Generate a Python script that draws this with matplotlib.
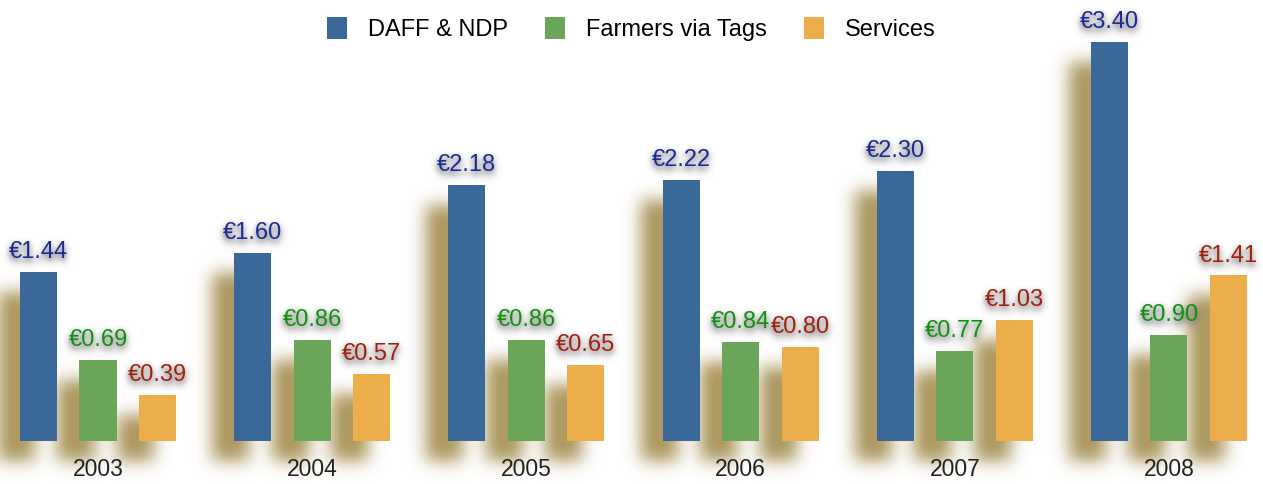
import numpy as np
import matplotlib
matplotlib.use('Agg')
import matplotlib.pyplot as plt

plt.rcParams['font.family'] = ['Liberation Sans', 'DejaVu Sans']

years = ['2003', '2004', '2005', '2006', '2007', '2008']
series = ['DAFF & NDP', 'Farmers via Tags', 'Services']
daff = [1.44, 1.60, 2.18, 2.22, 2.30, 3.40]
farmers = [0.69, 0.86, 0.86, 0.84, 0.77, 0.90]
services = [0.39, 0.57, 0.65, 0.80, 1.03, 1.41]

bar_colors = ['#3a6899', '#6aa55a', '#ecae4b']
text_colors = ['#1a2a96', '#0f930f', '#a3200f']
shadow_rgb = np.array([174, 154, 98]) / 255.


def gauss(a, sigma):
    r = int(3 * sigma)
    x = np.arange(-r, r + 1)
    k = np.exp(-0.5 * (x / sigma) ** 2)
    k /= k.sum()
    a = np.apply_along_axis(lambda v: np.convolve(v, k, mode='same'), 0, a)
    a = np.apply_along_axis(lambda v: np.convolve(v, k, mode='same'), 1, a)
    return a


def shadow_filter(im, dpi):  # blurred khaki copy, moved left and down
    pad = 60
    a = np.pad(im[:, :, 3], pad)
    a = np.roll(a, -22, axis=1)
    a = np.roll(a, 20, axis=0)
    a = gauss(a, 8.5)
    out = np.zeros(a.shape + (4,))
    out[..., :3] = shadow_rgb
    out[..., 3] = np.clip(a * 1.05, 0, 1)
    return out, -pad, -pad


def glow_filter(im, dpi):  # soft grey shadow under the value labels
    pad = 14
    p = np.pad(im, ((pad, pad), (pad, pad), (0, 0)))
    s = gauss(p[:, :, 3], 3.2)
    s = np.roll(s, 3, axis=0) * 0.6
    pa = p[:, :, 3]
    oa = pa + s * (1 - pa)
    out = np.zeros_like(p)
    grey = 0.4
    safe = np.where(oa > 0, oa, 1)
    for c in range(3):
        out[:, :, c] = (p[:, :, c] * pa + grey * s * (1 - pa)) / safe
    out[:, :, 3] = oa
    return out, -pad, -pad


fig = plt.figure(figsize=(12.63, 4.84), dpi=100)
ax = fig.add_axes([0, 43 / 484, 1, 441 / 484])

xs = np.arange(len(years))
width = 0.173
step = 0.278
data = [daff, farmers, services]

handles = []
for i, vals in enumerate(data):
    pos = xs + (i - 1) * step
    sh = ax.bar(pos, vals, width, color='k', zorder=1)
    for p in sh:
        p.set_agg_filter(shadow_filter)
    b = ax.bar(pos, vals, width, color=bar_colors[i], zorder=2, label=series[i])
    handles.append(b)
    for x, v in zip(pos, vals):
        t = ax.annotate('€%.2f' % v, (x, v), xytext=(0, 10), textcoords='offset points',
                        ha='center', va='baseline', fontsize=17, color=text_colors[i], zorder=3)
        t.set_agg_filter(glow_filter)

ax.set_xlim(-0.4575, 5.439)
ax.set_ylim(0, 3.756)
ax.set_xticks(xs, years)
ax.tick_params(axis='x', length=0, pad=12.5, labelsize=16.5, labelcolor='#222222')
ax.set_yticks([])
for s in ax.spines.values():
    s.set_visible(False)
ax.patch.set_visible(False)

fig.legend(handles=handles, loc='upper center', bbox_to_anchor=(0.5, 1.0), ncol=3,
           frameon=False, fontsize=17, handlelength=0.85, handleheight=1.1,
           handletextpad=0.9, columnspacing=1.55, borderaxespad=0.3)

fig.savefig('out.png', dpi=100)
